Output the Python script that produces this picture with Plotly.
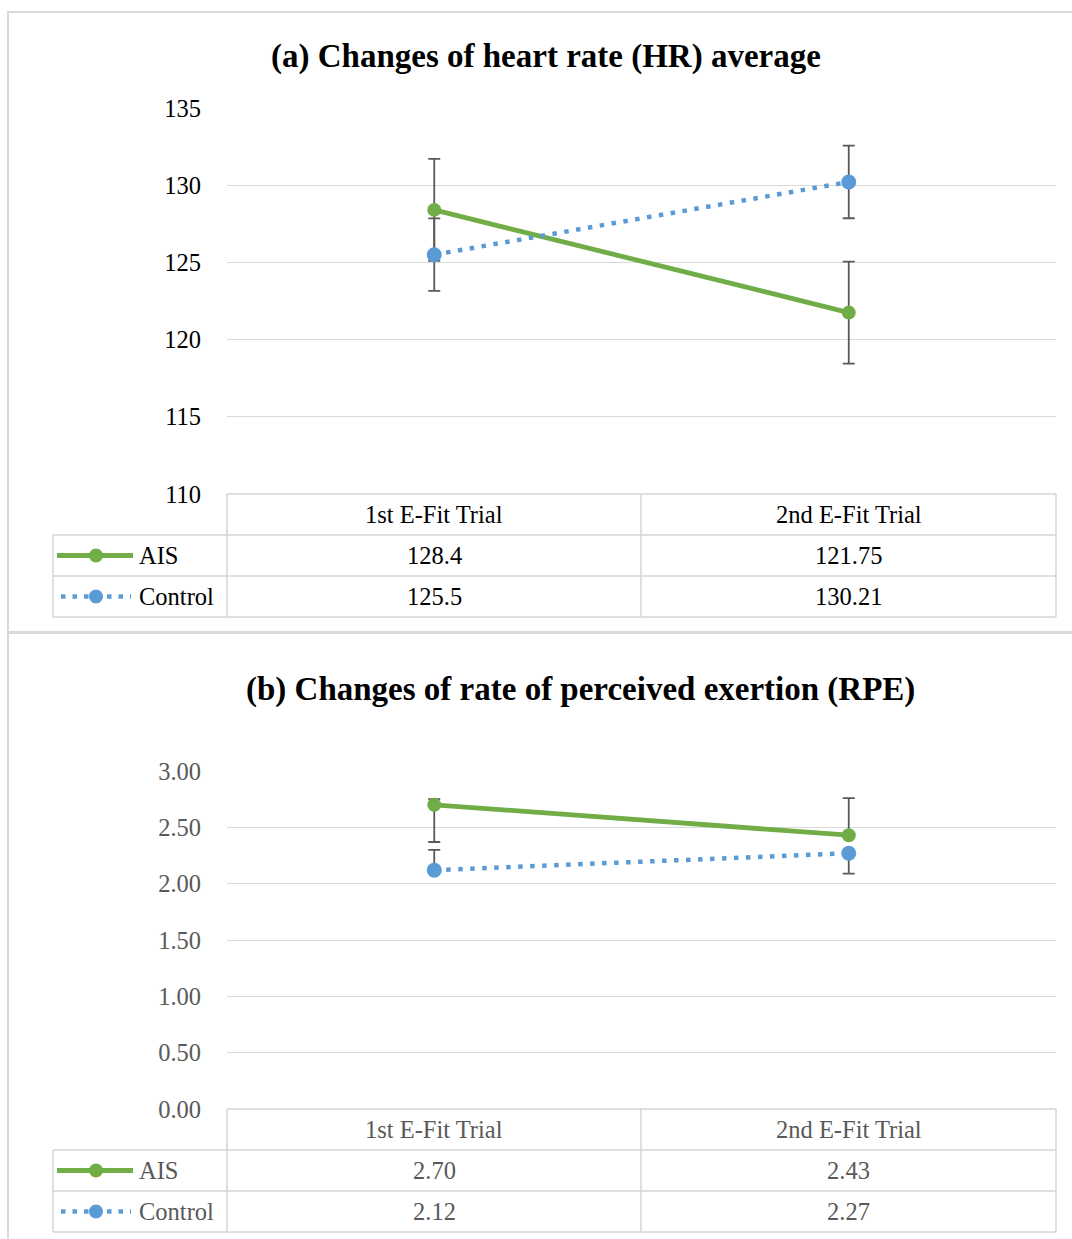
import plotly.graph_objects as go

W, H = 1072, 1239

# ---------------- data ----------------
categories = ["1st E-Fit Trial", "2nd E-Fit Trial"]
series_names = ["AIS", "Control"]

hr_ais = [128.4, 121.75]
hr_control = [125.5, 130.21]
hr_ais_err = [3.3, 3.3]
hr_control_err = [2.35, 2.35]

rpe_ais = [2.70, 2.43]
rpe_control = [2.12, 2.27]
rpe_ais_err_plus = [0.05, 0.33]
rpe_ais_err_minus = [0.33, 0.0]
rpe_control_err_plus = [0.18, 0.0]
rpe_control_err_minus = [0.0, 0.18]

hr_ticks = [110, 115, 120, 125, 130, 135]
rpe_ticks = [0.0, 0.5, 1.0, 1.5, 2.0, 2.5, 3.0]

title_a = "(a) Changes of heart rate (HR) average"
title_b = "(b) Changes of rate of perceived exertion (RPE)"

# ---------------- styles ----------------
GREEN = "#70AD47"
BLUE = "#5B9BD5"
GRID = "#D9D9D9"
ERR = "#595959"
FONT = "Palatino Linotype, Book Antiqua, Palatino, Liberation Serif, serif"
TXT_SIZE = 24.5
TITLE_SIZE = 33


def px(x):
    return x / W


def py(y):
    return 1 - y / H


fig = go.Figure()

panels = [
    dict(xa="x", ya="y", top=108, bottom=494, rng=[110, 135], ticks=hr_ticks, fmt="",
         ais=hr_ais, ctrl=hr_control,
         ais_p=hr_ais_err, ais_m=hr_ais_err, ctrl_p=hr_control_err, ctrl_m=hr_control_err,
         txt="#000000", title=title_a, title_y=56, title_x=546,
         valfmt=lambda v: f"{v:g}", box=(8, 12, 1076, 632)),
    dict(xa="x2", ya="y2", top=771, bottom=1109, rng=[0, 3], ticks=rpe_ticks, fmt=".2f",
         ais=rpe_ais, ctrl=rpe_control,
         ais_p=rpe_ais_err_plus, ais_m=rpe_ais_err_minus,
         ctrl_p=rpe_control_err_plus, ctrl_m=rpe_control_err_minus,
         txt="#595959", title=title_b, title_y=689, title_x=580,
         valfmt=lambda v: f"{v:.2f}", box=(8, 633, 1076, 1245)),
]

x_left, x_mid, x_right, leg_left = 227, 641, 1056, 53
row_h = 41

shapes = []
annotations = []

for i, p in enumerate(panels):
    xi = [0, 1]
    fig.add_trace(go.Scatter(
        x=xi, y=p["ais"], name=series_names[0], mode="lines+markers",
        line=dict(color=GREEN, width=4.8),
        marker=dict(color=GREEN, size=14),
        error_y=dict(type="data", symmetric=False, array=p["ais_p"], arrayminus=p["ais_m"],
                     color=ERR, thickness=1.8, width=6),
        xaxis=p["xa"], yaxis=p["ya"], showlegend=False))
    fig.add_trace(go.Scatter(
        x=xi, y=p["ctrl"], name=series_names[1], mode="lines+markers",
        line=dict(color=BLUE, width=4.5, dash="4.5px,7.5px"),
        marker=dict(color=BLUE, size=15),
        error_y=dict(type="data", symmetric=False, array=p["ctrl_p"], arrayminus=p["ctrl_m"],
                     color=ERR, thickness=1.8, width=6),
        xaxis=p["xa"], yaxis=p["ya"], showlegend=False))

    xkey = "xaxis" if i == 0 else "xaxis2"
    ykey = "yaxis" if i == 0 else "yaxis2"
    fig.update_layout(**{
        xkey: dict(domain=[px(x_left), px(x_right)], range=[-0.5, 1.5], showgrid=False,
                   zeroline=False, showticklabels=False, showline=False, automargin=False,
                   anchor="y" if i == 0 else "y2", fixedrange=True),
        ykey: dict(domain=[py(p["bottom"]), py(p["top"])], range=p["rng"],
                   tickvals=p["ticks"], tickformat=p["fmt"], showgrid=True,
                   gridcolor=GRID, gridwidth=1.3, zeroline=False, showline=False,
                   ticks="outside", ticklen=20, tickcolor="rgba(0,0,0,0)", automargin=False,
                   tickfont=dict(family=FONT, size=TXT_SIZE, color=p["txt"]),
                   anchor="x" if i == 0 else "x2", fixedrange=True),
    })

    # chart border
    bx0, by0, bx1, by1 = p["box"]
    shapes.append(dict(type="rect", xref="paper", yref="paper",
                       x0=px(bx0), x1=px(bx1), y0=py(by1), y1=py(by0),
                       line=dict(color="#D9D9D9", width=2)))

    # title
    annotations.append(dict(text=f"<b>{p['title']}</b>", xref="paper", yref="paper",
                            x=px(p["title_x"]), y=py(p["title_y"]), showarrow=False,
                            xanchor="center", yanchor="middle",
                            font=dict(family=FONT, size=TITLE_SIZE, color="#000000")))

    # data table
    t0 = p["bottom"]
    r1, r2, r3 = t0 + row_h, t0 + 2 * row_h, t0 + 3 * row_h
    tl = dict(color="#D4D4D4", width=1.5)
    shapes.append(dict(type="line", xref="paper", yref="paper", x0=px(x_left), x1=px(x_right),
                       y0=py(t0), y1=py(t0), line=tl))
    for yy in (r1, r2, r3):
        shapes.append(dict(type="line", xref="paper", yref="paper", x0=px(leg_left), x1=px(x_right),
                           y0=py(yy), y1=py(yy), line=tl))
    for xx in (x_left, x_mid, x_right):
        shapes.append(dict(type="line", xref="paper", yref="paper", x0=px(xx), x1=px(xx),
                           y0=py(t0), y1=py(r3), line=tl))
    shapes.append(dict(type="line", xref="paper", yref="paper", x0=px(leg_left), x1=px(leg_left),
                       y0=py(r1), y1=py(r3), line=tl))

    centers = [(x_left + x_mid) / 2, (x_mid + x_right) / 2]
    tfont = dict(family=FONT, size=TXT_SIZE, color=p["txt"])
    for c, cat in zip(centers, categories):
        annotations.append(dict(text=cat, xref="paper", yref="paper", x=px(c),
                                y=py(t0 + row_h / 2), showarrow=False, font=tfont,
                                xanchor="center", yanchor="middle"))
    for c, v in zip(centers, p["ais"]):
        annotations.append(dict(text=p["valfmt"](v), xref="paper", yref="paper", x=px(c),
                                y=py(r1 + row_h / 2), showarrow=False, font=tfont,
                                xanchor="center", yanchor="middle"))
    for c, v in zip(centers, p["ctrl"]):
        annotations.append(dict(text=p["valfmt"](v), xref="paper", yref="paper", x=px(c),
                                y=py(r2 + row_h / 2), showarrow=False, font=tfont,
                                xanchor="center", yanchor="middle"))

    # legend keys
    for k, (name, col, yy) in enumerate([(series_names[0], GREEN, r1 + row_h / 2),
                                          (series_names[1], BLUE, r2 + row_h / 2)]):
        if k == 0:
            shapes.append(dict(type="line", xref="paper", yref="paper", x0=px(57), x1=px(133),
                               y0=py(yy), y1=py(yy), line=dict(color=col, width=4.8)))
        else:
            shapes.append(dict(type="line", xref="paper", yref="paper", x0=px(61), x1=px(131),
                               y0=py(yy), y1=py(yy), line=dict(color=col, width=4.5, dash="4.5px,7px")))
        r = 7
        shapes.append(dict(type="circle", xref="paper", yref="paper", x0=px(96 - r), x1=px(96 + r),
                           y0=py(yy + r), y1=py(yy - r), fillcolor=col, line=dict(color=col, width=0)))
        annotations.append(dict(text=name, xref="paper", yref="paper", x=px(137),
                                y=py(yy), showarrow=False, font=tfont,
                                xanchor="left", yanchor="middle"))

fig.update_layout(
    width=W, height=H,
    margin=dict(l=0, r=0, t=0, b=0, pad=0, autoexpand=False),
    paper_bgcolor="white", plot_bgcolor="white",
    shapes=shapes, annotations=annotations,
    showlegend=False,
)

fig.write_html(
    "out.html",
    config={"displayModeBar": False},
    post_script=(
        "document.body.style.margin='0';document.body.style.padding='0';"
        "var gd=document.getElementById('{plot_id}');"
        "gd.style.position='fixed';gd.style.top='0px';gd.style.left='0px';"
        "document.documentElement.style.overflow='hidden';"
    ),
)
